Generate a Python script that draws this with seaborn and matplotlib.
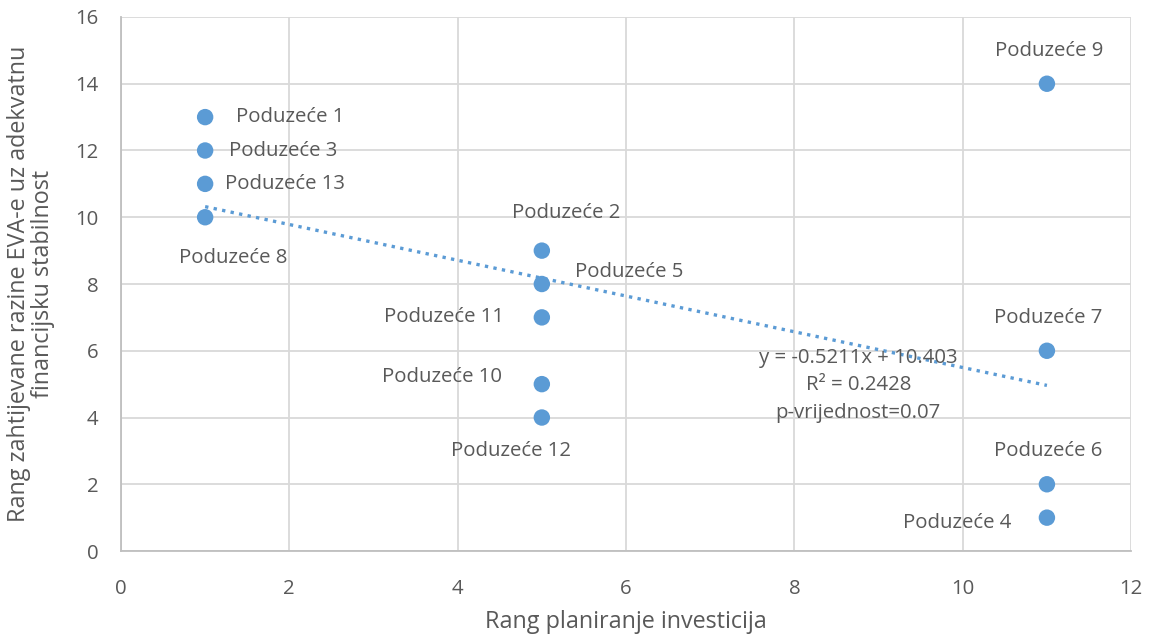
import numpy as np
import pandas as pd
import seaborn as sns
import matplotlib.pyplot as plt

sns.set_style('white')
plt.rcParams['font.family'] = ['Open Sans', 'DejaVu Sans']

# data
companies = ['Poduzeće 1', 'Poduzeće 3', 'Poduzeće 13', 'Poduzeće 8',
             'Poduzeće 2', 'Poduzeće 5', 'Poduzeće 11', 'Poduzeće 10', 'Poduzeće 12',
             'Poduzeće 9', 'Poduzeće 7', 'Poduzeće 6', 'Poduzeće 4']
rang_investicija = [1, 1, 1, 1, 5, 5, 5, 5, 5, 11, 11, 11, 11]
rang_eva = [13, 12, 11, 10, 9, 8, 7, 5, 4, 14, 6, 2, 1]
x_ticks = [0, 2, 4, 6, 8, 10, 12]
y_ticks = [0, 2, 4, 6, 8, 10, 12, 14, 16]
trend_text = ['y = -0.5211x + 10.403', 'R² = 0.2428', 'p-vrijednost=0.07']

# label offsets in pixels (dx, dy, ha)
label_offsets = {
    'Poduzeće 1': (31, 0, 'left'),
    'Poduzeće 3': (24, -1, 'left'),
    'Poduzeće 13': (20, 0, 'left'),
    'Poduzeće 8': (28, -41, 'center'),
    'Poduzeće 2': (24, 38, 'center'),
    'Poduzeće 5': (33, 12, 'left'),
    'Poduzeće 11': (-38, 0, 'right'),
    'Poduzeće 10': (-40, 7, 'right'),
    'Poduzeće 12': (-31, -33, 'center'),
    'Poduzeće 9': (2, 33, 'center'),
    'Poduzeće 7': (1, 33, 'center'),
    'Poduzeće 6': (1, 33, 'center'),
    'Poduzeće 4': (-36, -5, 'right'),
}

df = pd.DataFrame({'firma': companies, 'x': rang_investicija, 'y': rang_eva})
blue = '#5B9BD5'
grey_text = '#595959'
fs = 14.7

fig = plt.figure(figsize=(11.53, 6.36), dpi=100)
ax = fig.add_axes([0.1049, 0.1336, 0.9810 - 0.1049, 0.9733 - 0.1336])

sns.scatterplot(data=df, x='x', y='y', ax=ax, color=blue, s=140, edgecolor='none', zorder=3)

# linear trendline
slope, intercept = np.polyfit(df['x'], df['y'], 1)
xs = np.array([min(rang_investicija), max(rang_investicija)])
ax.plot(xs, slope * xs + intercept, linestyle=(0, (1, 1.6)), color=blue, linewidth=2.4, zorder=2)

for _, row in df.iterrows():
    dx, dy, ha = label_offsets[row['firma']]
    ax.annotate(row['firma'], (row['x'], row['y']), xytext=(dx, dy),
                textcoords='offset pixels', ha=ha, va='center',
                fontsize=fs, color=grey_text, zorder=4)

for txt, ty in zip(trend_text, [5.78, 4.97, 4.13]):
    ax.text(8.76, ty, txt, ha='center', va='center', fontsize=fs, color=grey_text)

ax.set_xlim(0, 12)
ax.set_ylim(0, 16)
ax.set_xticks(x_ticks)
ax.set_yticks(y_ticks)
ax.grid(True, color='#D9D9D9', linewidth=1.3)
ax.set_axisbelow(True)
for side in ['top', 'right']:
    ax.spines[side].set_visible(False)
for side in ['left', 'bottom']:
    ax.spines[side].set_color('#BFBFBF')
    ax.spines[side].set_linewidth(1.3)
ax.tick_params(axis='y', length=0, labelsize=fs, labelcolor=grey_text, pad=16)
ax.tick_params(axis='x', length=0, labelsize=fs, labelcolor=grey_text, pad=20)

ax.set_xlabel('Rang planiranje investicija', fontsize=16.8, color=grey_text)
ax.xaxis.set_label_coords(0.5, -0.133)
ax.xaxis.label.set_va('center')
ax.set_ylabel('Rang zahtijevane razine EVA-e uz adekvatnu\nfinancijsku stabilnost',
              fontsize=16.8, color=grey_text, linespacing=0.95)
ax.yaxis.set_label_coords(-0.089, 0.5)
ax.yaxis.label.set_va('center')

plt.savefig('out.png', dpi=100)
